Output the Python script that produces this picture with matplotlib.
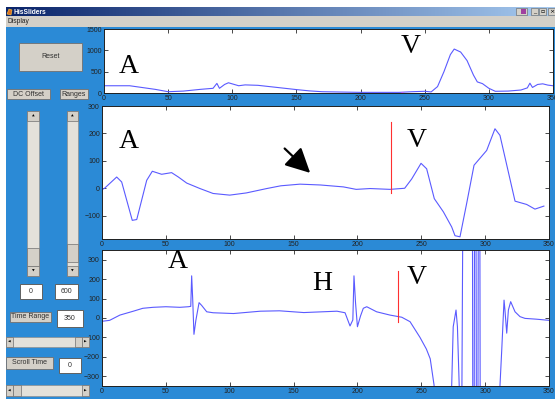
import matplotlib
matplotlib.use("Agg")
import matplotlib.pyplot as plt
import numpy as np
from matplotlib.patches import Rectangle, Polygon

# ---------------- data ----------------
top_x = [0, 20, 40, 50, 62, 75, 85, 88, 90, 94, 97, 105, 110, 120, 135, 150, 160, 170, 200,
         230, 240, 250, 255, 260, 265, 270, 273, 278, 283, 288, 291, 295, 300, 305, 315,
         325, 330, 332, 334, 338, 342, 346, 350]
top_y = [170, 170, 85, 30, 45, 85, 110, 225, 110, 200, 240, 170, 190, 180, 130, 80, 50, 30, 15,
         15, 30, 40, 25, 150, 500, 900, 1030, 960, 760, 420, 260, 220, 110, 40, 45,
         70, 120, 230, 130, 200, 215, 185, 170]
top_marker_x = [232]
top_marker_y = [10]

mid_x = [0, 2, 11.5, 15.4, 23.7, 27.2, 35, 39.4, 46.7, 54.5, 59.8, 66.3, 76.7, 87, 100, 113,
         129, 140, 155, 171, 189, 199, 210, 225.5, 237, 242.5, 249.8, 254.2, 260.2, 267.3,
         273.8, 276.4, 280.3, 285.5, 291.3, 301.2, 307.7, 311.6, 323.4, 332.5, 339, 346]
mid_y = [-5, 0, 41, 23, -117, -114, 29, 62, 51, 57, 41, 19, -1, -19, -25, -17,
         -1, 9, 15, 12, 5, -4, -1, -4, 0, 34, 91, 71, -38, -86,
         -141, -173, -177, -56, 84, 138, 217, 193, -47, -59, -76, -65]
mid_marker_x = [226]
mid_marker_y = [-19, 242]

bot_x = [0, 6, 14, 24.5, 32, 40, 50, 61, 67.6, 69.5, 70.2, 71, 72, 73.5, 76, 78, 82, 87,
         103, 124, 139, 158, 184, 190.3, 194.2, 196.4, 197.3, 198.5, 200, 202.4, 204.6,
         207.3, 215, 225.5, 234.7, 241.2, 249, 254, 257, 260, 263, 270, 273, 273.8, 275,
         277.2, 278.3, 279.7, 280.5, 281.3, 282.9, 289.8, 290.6, 291.2, 291.9, 292.6,
         293.4, 294.1, 294.9, 295.6, 296.4, 310.8, 311.6, 313, 314.8, 315.5, 316.9, 318.2,
         320, 323.4, 327.3, 331.2, 340, 350]
bot_y = [-17, -12, 15, 35, 50, 55, 58, 55, 58, 60, 217, 100, -84, -12, 79, 65, 32, 27,
         23, 35, 37, 28, 35, 27, -41, -10, 217, 80, -45, 10, 50,
         58, 32, 15, 4, -19, -100, -160, -210, -345, -700, -700, -600, -350, -45,
         41, -45, -350, -1000, -1000, 1000, 1500, -1500, -1500, 1500, 1500,
         -1500, -1500, 1500, 1500, -1500, -1500, -350, -164, 92, 41, -78, 41,
         84, 32, 7, -2, -6, -12]
bot_marker_x = [232]
bot_marker_y = [-19, 243]

x_ticks = [0, 50, 100, 150, 200, 250, 300, 350]
top_yticks = [0, 500, 1000, 1500]
mid_yticks = [-100, 0, 100, 200, 300]
bot_yticks = [-300, -200, -100, 0, 100, 200, 300]

# ---------------- layout ----------------
W, H = 555, 399
BLUE = '#2b8ad6'
GRAY = '#d4d0c8'
LINE = '#5a5aff'

fig = plt.figure(figsize=(W / 100, H / 100), dpi=100, facecolor=BLUE)

def fx(x):
    return x / W

def fy(y):
    return 1 - y / H

def rect(x0, y0, x1, y1, fc, ec='none', lw=0.6, z=1):
    r = Rectangle((fx(x0), fy(y1)), (x1 - x0) / W, (y1 - y0) / H, transform=fig.transFigure,
                  facecolor=fc, edgecolor=ec, linewidth=lw, zorder=z)
    fig.patches.append(r)
    return r

def ftext(x, y, s, size=5, color='#222222', ha='center', va='center', **kw):
    fig.text(fx(x), fy(y), s, fontsize=size, color=color, ha=ha, va=va,
             family='Liberation Sans', **kw)

def button(x0, y0, x1, y1, label, size=5):
    rect(x0, y0, x1, y1, GRAY, ec='#707070', lw=0.6)
    ftext((x0 + x1) / 2, (y0 + y1) / 2, label, size=size, color='#303030')

def textbox(x0, y0, x1, y1, label):
    rect(x0, y0, x1, y1, 'white', ec='#606060', lw=0.7)
    ftext((x0 + x1) / 2, (y0 + y1) / 2, label, size=5, color='#303030')

# white frame strips
rect(0, 0, W, 7, 'white')
rect(0, 0, 6, H, 'white')

# title bar gradient
tax = fig.add_axes([fx(6), fy(16), (W - 6) / W, 9 / H])
grad = np.linspace(0, 1, 256)[None, :]
c0 = np.array([10, 36, 106]) / 255
c1 = np.array([166, 202, 240]) / 255
img = c0[None, None, :] * (1 - grad[..., None]) + c1[None, None, :] * grad[..., None]
tax.imshow(img, aspect='auto', extent=[0, 1, 0, 1])
tax.set_axis_off()
fig.patches.append(Polygon([[fx(7), fy(14)], [fx(9), fy(9)], [fx(12), fy(10)], [fx(11), fy(15)]],
                           closed=True, transform=fig.transFigure, facecolor='#e07020',
                           edgecolor='#ffd040', lw=0.4, zorder=3))
fig.text(fx(14), fy(12), 'HisSliders', fontsize=4.8, color='white', weight='bold',
         ha='left', va='center', family='Liberation Sans', zorder=4)
# window buttons
rect(516, 8, 527, 15, GRAY, ec='#606060', lw=0.4, z=3)
rect(521, 9, 526, 14, '#a040a0', z=4)
for x0, s in [(531, '_'), (539, '▫'), (548, '×')]:
    rect(x0, 8, x0 + 7, 15, GRAY, ec='#606060', lw=0.4, z=3)
    fig.text(fx(x0 + 3.5), fy(11.5), s, fontsize=4.5, color='black', ha='center', va='center',
             family='DejaVu Sans', zorder=4)

# menu bar
rect(6, 16, W, 27, GRAY)
ftext(8, 21.5, 'Display', size=4.8, ha='left', color='#202020')

# left control panel
button(19, 43, 82, 71, 'Reset')
button(7, 89, 50, 99, 'DC Offset')
button(60, 89, 88, 99, 'Ranges')
for x0, x1, th0, th1 in [(27, 39, 248, 266), (67, 78, 244, 262)]:
    rect(x0, 111, x1, 276, '#e4e1da', ec='#909090', lw=0.5)
    rect(x0, 111, x1, 121, GRAY, ec='#707070', lw=0.5)
    rect(x0, 266, x1, 276, GRAY, ec='#707070', lw=0.5)
    rect(x0, th0, x1, th1, GRAY, ec='#707070', lw=0.5)
    fig.text(fx((x0 + x1) / 2), fy(116), '▲', fontsize=2.5, ha='center', va='center', color='black')
    fig.text(fx((x0 + x1) / 2), fy(271), '▼', fontsize=2.5, ha='center', va='center', color='black')
textbox(20, 284, 42, 299, '0')
textbox(55, 284, 78, 299, '600')
button(10, 312, 51, 322, 'Time Range')
textbox(57, 310, 83, 327, '350')
for y0, y1, t0, t1 in [(337, 347, 75, 82), (385, 396, 13, 21)]:
    rect(6, y0, 89, y1, '#e4e1da', ec='#909090', lw=0.5)
    rect(6, y0, 13, y1, GRAY, ec='#707070', lw=0.5)
    rect(82, y0, 89, y1, GRAY, ec='#707070', lw=0.5)
    rect(t0, y0, t1, y1, GRAY, ec='#707070', lw=0.5)
    fig.text(fx(9.5), fy((y0 + y1) / 2), '◀', fontsize=2.5, ha='center', va='center', color='black')
    fig.text(fx(85.5), fy((y0 + y1) / 2), '▶', fontsize=2.5, ha='center', va='center', color='black')
button(6, 357, 53, 369, 'Scroll Time')
textbox(59, 358, 81, 373, '0')

# ---------------- axes ----------------
def make_axes(x0, y0, x1, y1):
    ax = fig.add_axes([fx(x0), fy(y1), (x1 - x0) / W, (y1 - y0) / H])
    ax.set_facecolor('white')
    for sp in ax.spines.values():
        sp.set_linewidth(0.7)
        sp.set_color('#202020')
    ax.tick_params(direction='in', length=3, width=0.5, top=True, right=True,
                   labelsize=5, labelcolor='#222222', pad=1.5)
    ax.set_xlim(0, 350)
    ax.set_xticks(x_ticks)
    return ax

ax_top = make_axes(104, 29, 553, 93)
ax_top.plot(top_x, top_y, color=LINE, lw=0.8)
ax_top.plot(top_marker_x, top_marker_y, 's', color='#ff40ff', ms=1.8, mec='none')
ax_top.set_ylim(0, 1500)
ax_top.set_yticks(top_yticks)

ax_mid = make_axes(102, 106, 549, 239)
ax_mid.plot(mid_x, mid_y, color=LINE, lw=0.8)
ax_mid.plot([mid_marker_x[0]] * 2, mid_marker_y, color='#ff3030', lw=0.8)
ax_mid.set_ylim(-185, 300)
ax_mid.set_yticks(mid_yticks)
ax_mid.annotate('', xy=(163, 56), xytext=(143, 145),
                arrowprops=dict(arrowstyle='-|>,head_length=0.75,head_width=0.38',
                                color='black', lw=1.6, mutation_scale=20,
                                shrinkA=0, shrinkB=0))

ax_bot = make_axes(102, 250, 549, 386)
ax_bot.plot(bot_x, bot_y, color=LINE, lw=0.8)
ax_bot.plot([bot_marker_x[0]] * 2, bot_marker_y, color='#ff3030', lw=0.8)
ax_bot.set_ylim(-350, 350)
ax_bot.set_yticks(bot_yticks)

for ax in (ax_top, ax_mid, ax_bot):
    for lab in ax.get_xticklabels() + ax.get_yticklabels():
        lab.set_family('Liberation Sans')

# ---------------- annotation letters ----------------
letters = [('A', 129, 73), ('V', 411, 53), ('A', 129, 147.5), ('V', 417, 146.5),
           ('A', 178, 267.5), ('H', 322, 289.5), ('V', 417, 284.5)]
for s, x, y in letters:
    fig.text(fx(x), fy(y), s, fontsize=20, family='Liberation Serif', color='black',
             ha='center', va='baseline', zorder=10)

fig.savefig('out.png', dpi=100, facecolor=BLUE)
